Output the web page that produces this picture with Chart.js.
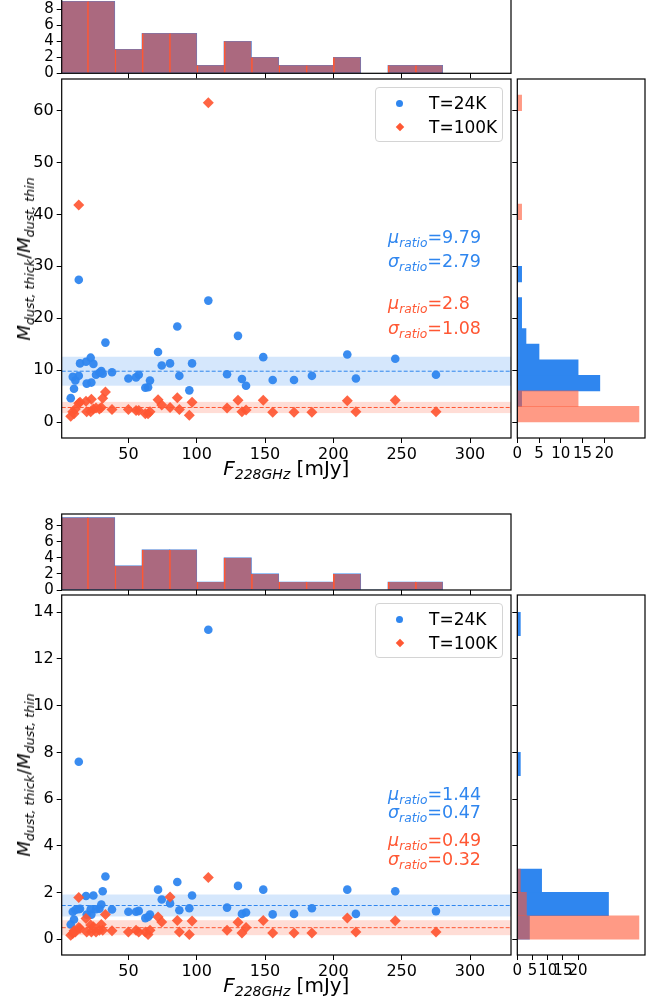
<!DOCTYPE html>
<html>
<head>
<meta charset="utf-8">
<title>M_dust thick / thin ratio</title>
<script src="https://cdn.jsdelivr.net/npm/chart.js@4.4.1/dist/chart.umd.min.js"></script>
<style>
  body { margin:0; background:#fff; }
  #fig { position:relative; width:663px; height:1004px; overflow:hidden; font-family:"DejaVu Sans", sans-serif; color:#000; }
  #fig canvas { position:absolute; }
  .txt { position:absolute; white-space:nowrap; font-size:17.5px; line-height:20px; height:20px; }
  sub { font-size:0.7em; font-style:italic; vertical-align:-0.3em; line-height:0; }
  .ylab, .xlab { position:absolute; white-space:nowrap; line-height:24px; }
  .ylab { font-size:18px; transform:translate(-50%,-50%) rotate(-90deg); }
  .xlab { font-size:20px; transform:translate(-50%,-50%); }
  .leg { position:absolute; width:128px; height:55px; border:1px solid #d4d4d4; border-radius:4px; background:rgba(255,255,255,0.8); box-sizing:border-box; }
  .leg span { position:absolute; left:53px; font-size:17px; line-height:20px; }
  .dot { position:absolute; width:7px; height:7px; border-radius:50%; }
  .dia { position:absolute; width:6px; height:6px; transform:rotate(45deg); }
</style>
</head>
<body>
<div id="fig"></div>
<script>
// F_228GHz [mJy] of the sources (shared by both figures)
var flux = [7.8, 9.3, 10.2, 11.2, 13.7, 13.7, 14.6, 19.0, 19.5, 22.4, 22.9, 24.4, 26.3, 28.8, 30.2, 31.2, 33.2, 38.0,
            50.0, 55.6, 57.6, 62.4, 64.4, 65.8, 71.7, 74.4, 80.5, 85.8, 87.3, 94.6, 96.6, 108.5, 122.2, 130.2, 133.1,
            136.1, 148.7, 155.6, 171.2, 184.3, 210.2, 216.5, 245.3, 275.1];

// upper figure, ratio for T=24K and T=100K
var ratio24a = [4.6, 8.7, 6.4, 8.0, 8.9, 27.4, 11.3, 11.6, 7.4, 12.4, 7.6, 11.2, 9.1, 9.5, 9.8, 9.3, 15.3, 9.6,
                8.4, 8.6, 9.1, 6.6, 6.7, 8.0, 13.5, 10.9, 11.3, 18.4, 8.9, 6.1, 11.3, 23.4, 9.2, 16.6, 8.3,
                7.0, 12.5, 8.1, 8.1, 8.9, 13.0, 8.4, 12.2, 9.1];
var ratio100a = [1.1, 2.0, 1.6, 2.5, 3.6, 41.8, 3.8, 4.0, 2.0, 2.0, 4.4, 2.5, 2.7, 2.5, 2.8, 4.6, 5.8, 2.4,
                 2.4, 2.2, 2.2, 1.6, 1.6, 2.0, 4.3, 3.3, 2.8, 4.7, 2.4, 1.3, 3.8, 61.5, 2.7, 4.2, 2.0,
                 2.3, 4.2, 1.9, 1.9, 1.9, 4.1, 2.0, 4.2, 2.0];

// lower figure
var ratio24b = [0.63, 1.17, 0.84, 1.25, 1.28, 7.6, 1.3, 1.85, 1.05, 1.28, 1.05, 1.87, 1.28, 1.3, 1.48, 2.05, 2.68, 1.27,
                1.17, 1.17, 1.21, 0.9, 0.95, 1.05, 2.12, 1.7, 1.53, 2.45, 1.24, 1.32, 1.87, 13.25, 1.35, 2.28, 1.08,
                1.14, 2.12, 1.06, 1.08, 1.32, 2.12, 1.08, 2.05, 1.2];
var ratio100b = [0.17, 0.24, 0.36, 0.3, 0.5, 1.78, 0.45, 0.88, 0.3, 0.6, 0.3, 0.53, 0.3, 0.38, 0.63, 0.38, 1.05, 0.36,
                 0.3, 0.38, 0.3, 0.3, 0.2, 0.38, 0.95, 0.73, 1.8, 0.8, 0.3, 0.2, 0.78, 2.64, 0.38, 0.72, 0.26,
                 0.5, 0.8, 0.26, 0.26, 0.26, 0.91, 0.3, 0.79, 0.3];

// flux histogram (top panels)
var fluxBins = [10, 30, 50, 70, 90, 110, 130, 150, 170, 190, 210, 230, 250, 270];
var fluxCounts = [9, 9, 3, 5, 5, 1, 4, 2, 1, 1, 2, 0, 1, 1];

// ratio histograms (right panels)
var ratioBinsA = [1.5, 4.5, 7.5, 10.5, 13.5, 16.5, 19.5, 22.5, 25.5, 28.5, 31.5, 34.5, 37.5, 40.5, 43.5, 46.5, 49.5, 52.5, 55.5, 58.5, 61.5];
var count24a  = [0, 1, 19, 14, 5, 2, 1, 1, 0, 1, 0, 0, 0, 0, 0, 0, 0, 0, 0, 0, 0];
var count100a = [28, 14, 0, 0, 0, 0, 0, 0, 0, 0, 0, 0, 0, 1, 0, 0, 0, 0, 0, 0, 1];
var ratioBinsB = [0.5, 1.5, 2.5, 3.5, 4.5, 5.5, 6.5, 7.5, 8.5, 9.5, 10.5, 11.5, 12.5, 13.5];
var count24b  = [4, 30, 8, 0, 0, 0, 0, 1, 0, 0, 0, 0, 0, 1];
var count100b = [40, 3, 1, 0, 0, 0, 0, 0, 0, 0, 0, 0, 0, 0];

// mean and scatter of the ratio
var mu24 = [9.79, 1.44], sig24 = [2.79, 0.47];
var mu100 = [2.8, 0.49], sig100 = [1.08, 0.32];

// ticks
var xTicks = [50, 100, 150, 200, 250, 300];
var histTicks = [0, 2, 4, 6, 8];
var yTicksA = [0, 10, 20, 30, 40, 50, 60];
var yTicksB = [0, 2, 4, 6, 8, 10, 12, 14];
var countTicks = [0, 5, 10, 15, 20];

var BLUE = '#2f86ef', RED = '#ff5733', RED_A = 'rgba(255,87,51,0.6)';
var BLUE_BAND = 'rgba(47,134,239,0.2)', RED_BAND = 'rgba(255,87,51,0.2)';

Chart.defaults.font.family = '"DejaVu Sans", sans-serif';
Chart.defaults.color = '#000';

var XMIN = 1.2, XMAX = 330;
var LEFT = 61.7, RIGHT = 511, RLEFT = 517.3, RRIGHT = 645;
var PAD = 20;

var panels = [
  { hist: [-2.3, 73.3], main: [79, 438], ymin: -3.08, ymax: 66.1, yTicks: yTicksA, cmax: 29.4,
    bins: ratioBinsA, c24: count24a, c100: count100a, r24: ratio24a, r100: ratio100a, k: 0,
    statY: [158, 182, 224, 249] },
  { hist: [514, 590], main: [595, 955], ymin: -0.68, ymax: 14.74, yTicks: yTicksB, cmax: 42,
    bins: ratioBinsB, c24: count24b, c100: count100b, r24: ratio24b, r100: ratio100b, k: 1,
    statY: [199, 217, 245, 264] }
];

var fig = document.getElementById('fig');

function canvasAt(left, top, w, h) {
  var c = document.createElement('canvas');
  c.width = w; c.height = h;
  c.style.left = left + 'px'; c.style.top = top + 'px';
  fig.appendChild(c);
  return c;
}

function fixed(vals) {
  return function(s) { s.ticks = vals.map(function(v) { return { value: v }; }); };
}

function tickGrid() {
  return { display: true, drawOnChartArea: false, drawTicks: true, tickLength: 5, color: '#000', lineWidth: 1, offset: false };
}

var frame = {
  id: 'frame',
  afterDraw: function(ch) {
    var a = ch.chartArea, ctx = ch.ctx;
    ctx.save();
    ctx.strokeStyle = '#000'; ctx.lineWidth = 1.2;
    ctx.strokeRect(a.left, a.top, a.right - a.left, a.bottom - a.top);
    ctx.restore();
  }
};

function bands(k) {
  return {
    id: 'bands',
    beforeDatasetsDraw: function(ch) {
      var a = ch.chartArea, ctx = ch.ctx, y = ch.scales.y;
      var sets = [[mu24[k], sig24[k], BLUE_BAND, BLUE], [mu100[k], sig100[k], RED_BAND, RED]];
      ctx.save();
      ctx.beginPath(); ctx.rect(a.left, a.top, a.right - a.left, a.bottom - a.top); ctx.clip();
      sets.forEach(function(s) {
        var y1 = y.getPixelForValue(s[0] + s[1]), y2 = y.getPixelForValue(s[0] - s[1]);
        ctx.fillStyle = s[2];
        ctx.fillRect(a.left, y1, a.right - a.left, y2 - y1);
        var ym = y.getPixelForValue(s[0]);
        ctx.strokeStyle = s[3]; ctx.lineWidth = 1; ctx.setLineDash([4, 2]);
        ctx.beginPath(); ctx.moveTo(a.left, ym); ctx.lineTo(a.right, ym); ctx.stroke();
      });
      ctx.restore();
    }
  };
}

var common = {
  responsive: false, animation: false, events: [], devicePixelRatio: 1,
  plugins: { legend: { display: false }, tooltip: { enabled: false } }
};

function opts(extra) {
  var o = JSON.parse(JSON.stringify(common));
  for (var key in extra) o[key] = extra[key];
  return o;
}

panels.forEach(function(p) {
  // top flux histogram
  var ht = Math.floor(p.hist[0]) - PAD;
  var hh = Math.ceil(p.hist[1]) + PAD - ht;
  var c1 = canvasAt(0, ht, 520, hh);
  new Chart(c1, {
    type: 'bar',
    data: { datasets: [
      { data: fluxBins.map(function(x, i) { return { x: x, y: fluxCounts[i] }; }),
        backgroundColor: RED_A, borderColor: RED, borderWidth: { left: 1, right: 0, top: 0, bottom: 0 },
        grouped: false, barPercentage: 1, categoryPercentage: 1, order: 0 },
      { data: fluxBins.map(function(x, i) { return { x: x, y: fluxCounts[i] }; }),
        backgroundColor: BLUE, borderWidth: 0,
        grouped: false, barPercentage: 1, categoryPercentage: 1, order: 1 }
    ] },
    options: opts({
      layout: { padding: { top: p.hist[0] - ht, right: 520 - RIGHT, left: 0, bottom: 0 } },
      scales: {
        x: { type: 'linear', offset: false, min: XMIN, max: XMAX, afterBuildTicks: fixed(xTicks),
             afterFit: function(s) { s.height = ht + hh - p.hist[1]; },
             grid: tickGrid(), border: { display: false }, ticks: { display: false } },
        y: { type: 'linear', min: 0, max: 9.45, afterBuildTicks: fixed(histTicks),
             afterFit: function(s) { s.width = LEFT; },
             grid: tickGrid(), border: { display: false },
             ticks: { font: { size: 15 }, padding: 3, autoSkip: false } }
      }
    }),
    plugins: [frame]
  });

  // main scatter
  var mt = Math.floor(p.main[0]) - PAD;
  var mh = Math.ceil(p.main[1]) + 42 - mt;
  var c2 = canvasAt(0, mt, 520, mh);
  new Chart(c2, {
    type: 'scatter',
    data: { datasets: [
      { data: flux.map(function(x, i) { return { x: x, y: p.r100[i] }; }),
        pointStyle: 'rectRot', radius: 5.5, backgroundColor: 'rgba(255,87,51,0.92)', borderWidth: 0, order: 0 },
      { data: flux.map(function(x, i) { return { x: x, y: p.r24[i] }; }),
        pointStyle: 'circle', radius: 4.3, backgroundColor: 'rgba(47,134,239,0.95)', borderWidth: 0, order: 1 }
    ] },
    options: opts({
      layout: { padding: { top: p.main[0] - mt, right: 520 - RIGHT, left: 0, bottom: 0 } },
      scales: {
        x: { type: 'linear', min: XMIN, max: XMAX, afterBuildTicks: fixed(xTicks),
             afterFit: function(s) { s.height = mt + mh - p.main[1]; },
             grid: tickGrid(), border: { display: false },
             ticks: { font: { size: 16 }, padding: 2, maxRotation: 0, autoSkip: false } },
        y: { type: 'linear', min: p.ymin, max: p.ymax, afterBuildTicks: fixed(p.yTicks),
             afterFit: function(s) { s.width = LEFT; },
             grid: tickGrid(), border: { display: false },
             ticks: { font: { size: 16 }, padding: 3, autoSkip: false } }
      }
    }),
    plugins: [bands(p.k), frame]
  });

  // right ratio histogram
  var c3 = canvasAt(510, mt, 153, mh);
  new Chart(c3, {
    type: 'bar',
    data: { datasets: [
      { data: p.bins.map(function(y, i) { return { x: p.c100[i], y: y }; }),
        backgroundColor: RED_A, borderWidth: 0, grouped: false, barPercentage: 1, categoryPercentage: 1, order: 0 },
      { data: p.bins.map(function(y, i) { return { x: p.c24[i], y: y }; }),
        backgroundColor: BLUE, borderWidth: 0, grouped: false, barPercentage: 1, categoryPercentage: 1, order: 1 }
    ] },
    options: opts({
      indexAxis: 'y',
      layout: { padding: { top: p.main[0] - mt, right: 663 - RRIGHT, left: 0, bottom: 0 } },
      scales: {
        x: { type: 'linear', min: 0, max: p.cmax, afterBuildTicks: fixed(countTicks),
             afterFit: function(s) { s.height = mt + mh - p.main[1]; },
             grid: tickGrid(), border: { display: false },
             ticks: { font: { size: 15 }, padding: 2, maxRotation: 0, autoSkip: false } },
        y: { type: 'linear', offset: false, min: p.ymin, max: p.ymax, afterBuildTicks: fixed(p.yTicks),
             afterFit: function(s) { s.width = RLEFT - 510; },
             grid: tickGrid(), border: { display: false },
             ticks: { callback: function() { return ''; } } }
      }
    }),
    plugins: [frame]
  });

  // axis titles
  var mid = (p.main[0] + p.main[1]) / 2;
  var yl = document.createElement('div');
  yl.className = 'ylab';
  yl.style.left = '24px'; yl.style.top = mid + 'px';
  yl.innerHTML = '<i>M</i><sub>dust, thick</sub>/<i>M</i><sub>dust, thin</sub>';
  fig.appendChild(yl);

  var xl = document.createElement('div');
  xl.className = 'xlab';
  xl.style.left = ((LEFT + RIGHT) / 2) + 'px'; xl.style.top = (p.main[1] + 30) + 'px';
  xl.innerHTML = '<i>F</i><sub>228GHz</sub> [mJy]';
  fig.appendChild(xl);

  // legend
  var lg = document.createElement('div');
  lg.className = 'leg';
  lg.style.left = '375px'; lg.style.top = (p.main[0] + 8) + 'px';
  lg.innerHTML =
    '<div class="dot" style="left:20px;top:12px;background:' + BLUE + '"></div>' +
    '<span style="top:5px">T=24K</span>' +
    '<div class="dia" style="left:21px;top:36px;background:' + RED + '"></div>' +
    '<span style="top:29px">T=100K</span>';
  fig.appendChild(lg);

  // statistics
  var lines = [
    ['\u03bc', mu24[p.k], BLUE], ['\u03c3', sig24[p.k], BLUE],
    ['\u03bc', mu100[p.k], RED], ['\u03c3', sig100[p.k], RED]
  ];
  lines.forEach(function(l, i) {
    var d = document.createElement('div');
    d.className = 'txt';
    d.style.left = '388px';
    d.style.top = (p.main[0] + p.statY[i] - 10) + 'px';
    d.style.color = l[2];
    d.innerHTML = '<i>' + l[0] + '</i><sub>ratio</sub>=' + l[1];
    fig.appendChild(d);
  });
});
</script>
</body>
</html>
